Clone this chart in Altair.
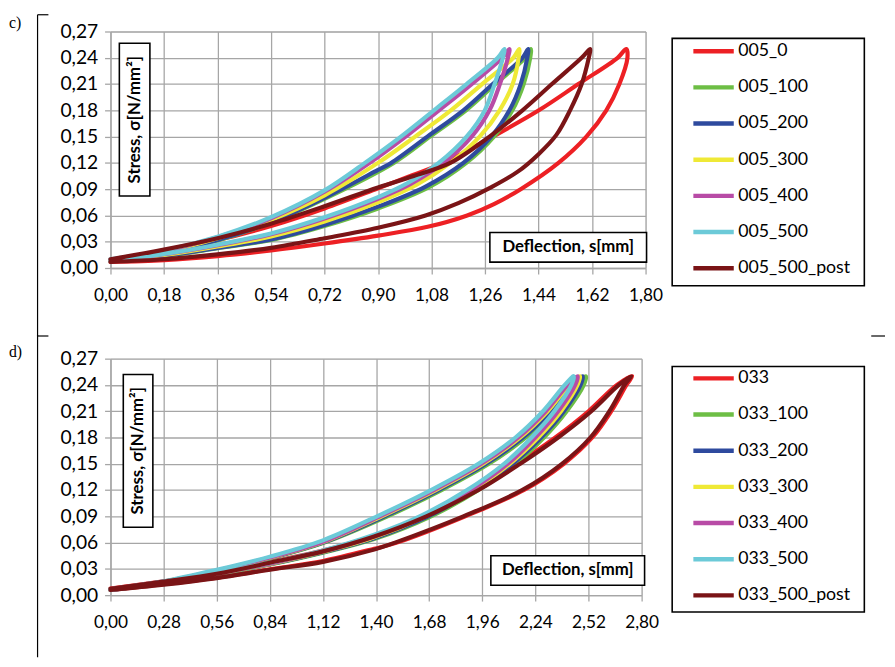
import altair as alt
import pandas as pd

# ---------------- panel c) ----------------
C_SERIES = ["005_0", "005_100", "005_200", "005_300", "005_400", "005_500", "005_500_post"]
C_XTICKS = [0.00, 0.18, 0.36, 0.54, 0.72, 0.90, 1.08, 1.26, 1.44, 1.62, 1.80]

c_005_0_x = [0.00, 0.18, 0.36, 0.54, 0.72, 0.90, 1.067, 1.20, 1.29, 1.38, 1.507, 1.601, 1.668, 1.712, 1.739, 1.735,
             1.706, 1.574, 1.441, 1.286, 1.121, 1.00, 0.90, 0.72, 0.54, 0.36, 0.18, 0.00]
c_005_0_y = [0.007, 0.009, 0.0135, 0.020, 0.028, 0.037, 0.047, 0.060, 0.073, 0.090, 0.12, 0.15, 0.18, 0.21, 0.24, 0.25,
             0.24, 0.21, 0.18, 0.15, 0.12, 0.104, 0.091, 0.068, 0.048, 0.032, 0.020, 0.009]

c_005_100_x = [0.00, 0.18, 0.36, 0.54, 0.72, 0.90, 1.07, 1.197, 1.29, 1.352, 1.39, 1.412, 1.414,
               1.395, 1.295, 1.196, 1.075, 0.953, 0.72, 0.54, 0.36, 0.18, 0.00]
c_005_100_y = [0.008, 0.0135, 0.0225, 0.032, 0.048, 0.068, 0.092, 0.12, 0.15, 0.18, 0.21, 0.24, 0.25,
               0.24, 0.21, 0.18, 0.15, 0.12, 0.079, 0.052, 0.0315, 0.0168, 0.009]

c_005_200_x = [0.00, 0.18, 0.36, 0.54, 0.72, 0.90, 1.06, 1.187, 1.281, 1.342, 1.38, 1.402, 1.405,
               1.386, 1.286, 1.187, 1.066, 0.944, 0.90, 0.72, 0.54, 0.36, 0.18, 0.00]
c_005_200_y = [0.008, 0.0138, 0.023, 0.0325, 0.049, 0.070, 0.093, 0.12, 0.15, 0.18, 0.21, 0.24, 0.25,
               0.24, 0.21, 0.18, 0.15, 0.12, 0.112, 0.080, 0.0524, 0.032, 0.017, 0.009]

c_005_300_x = [0.00, 0.18, 0.36, 0.54, 0.72, 0.90, 1.03, 1.143, 1.242, 1.309, 1.353, 1.373, 1.375,
               1.355, 1.25, 1.145, 1.025, 0.90, 0.72, 0.54, 0.36, 0.18, 0.00]
c_005_300_y = [0.008, 0.0148, 0.0245, 0.036, 0.053, 0.075, 0.095, 0.12, 0.15, 0.18, 0.21, 0.24, 0.25,
               0.24, 0.21, 0.18, 0.15, 0.12, 0.083, 0.055, 0.034, 0.0185, 0.009]

c_005_400_x = [0.00, 0.18, 0.36, 0.54, 0.72, 0.90, 1.01, 1.12, 1.215, 1.275, 1.31, 1.337, 1.342,
               1.318, 1.215, 1.105, 0.993, 0.872, 0.72, 0.54, 0.36, 0.18, 0.00]
c_005_400_y = [0.008, 0.0157, 0.026, 0.0385, 0.0565, 0.079, 0.096, 0.12, 0.15, 0.18, 0.21, 0.24, 0.25,
               0.24, 0.21, 0.18, 0.15, 0.12, 0.087, 0.0568, 0.035, 0.0195, 0.0095]

c_005_500_x = [0.00, 0.18, 0.36, 0.54, 0.72, 0.90, 1.00, 1.104, 1.198, 1.259, 1.292, 1.320, 1.325,
               1.303, 1.198, 1.088, 0.977, 0.856, 0.72, 0.54, 0.36, 0.18, 0.00]
c_005_500_y = [0.008, 0.016, 0.0266, 0.0395, 0.058, 0.081, 0.097, 0.12, 0.15, 0.18, 0.21, 0.24, 0.25,
               0.24, 0.21, 0.18, 0.15, 0.12, 0.0886, 0.058, 0.0358, 0.020, 0.010]

c_005_post_x = [0.00, 0.18, 0.36, 0.54, 0.72, 0.90, 1.06, 1.17, 1.28, 1.37, 1.44, 1.50, 1.546, 1.585, 1.609, 1.614,
                1.585, 1.485, 1.386, 1.275, 1.143, 1.02, 0.90, 0.72, 0.54, 0.36, 0.18, 0.00]
c_005_post_y = [0.007, 0.010, 0.0155, 0.023, 0.034, 0.046, 0.060, 0.074, 0.092, 0.11, 0.13, 0.152, 0.18, 0.21, 0.24, 0.25,
                0.24, 0.21, 0.18, 0.15, 0.12, 0.105, 0.092, 0.0705, 0.0505, 0.034, 0.021, 0.010]

# ---------------- panel d) ----------------
D_SERIES = ["033", "033_100", "033_200", "033_300", "033_400", "033_500", "033_500_post"]
D_XTICKS = [0.00, 0.28, 0.56, 0.84, 1.12, 1.40, 1.68, 1.96, 2.24, 2.52, 2.80]

d_033_x = [0.00, 0.28, 0.56, 0.84, 1.12, 1.39, 1.51, 1.87, 2.18, 2.39, 2.54, 2.64, 2.72, 2.75,
           2.67, 2.52, 2.345, 2.145, 1.925, 1.65, 1.39, 1.12, 0.84, 0.56, 0.28, 0.00]
d_033_y = [0.006, 0.0125, 0.020, 0.0295, 0.039, 0.053, 0.060, 0.09, 0.12, 0.15, 0.18, 0.21, 0.24, 0.25,
           0.24, 0.21, 0.18, 0.15, 0.12, 0.09, 0.068, 0.051, 0.038, 0.025, 0.0158, 0.0075]

d_033_100_x = [0.00, 0.28, 0.56, 0.84, 1.12, 1.39, 1.69, 1.94, 2.135, 2.285, 2.405, 2.495, 2.506,
               2.45, 2.335, 2.19, 1.995, 1.745, 1.46, 1.12, 0.84, 0.56, 0.28, 0.00]
d_033_100_y = [0.006, 0.0138, 0.0237, 0.035, 0.0485, 0.064, 0.09, 0.12, 0.15, 0.18, 0.21, 0.24, 0.25,
               0.24, 0.21, 0.18, 0.15, 0.12, 0.09, 0.0595, 0.042, 0.0275, 0.015, 0.0066]

d_033_200_x = [0.00, 0.28, 0.56, 0.84, 1.12, 1.39, 1.675, 1.925, 2.12, 2.27, 2.39, 2.478, 2.489,
               2.435, 2.32, 2.175, 1.98, 1.73, 1.445, 1.12, 0.84, 0.56, 0.28, 0.00]
d_033_200_y = [0.006, 0.014, 0.024, 0.0353, 0.049, 0.065, 0.09, 0.12, 0.15, 0.18, 0.21, 0.24, 0.25,
               0.24, 0.21, 0.18, 0.15, 0.12, 0.09, 0.060, 0.0423, 0.0277, 0.0152, 0.0066]

d_033_300_x = [0.00, 0.28, 0.56, 0.84, 1.12, 1.39, 1.66, 1.91, 2.105, 2.255, 2.375, 2.462, 2.475,
               2.42, 2.305, 2.16, 1.965, 1.715, 1.43, 1.12, 0.84, 0.56, 0.28, 0.00]
d_033_300_y = [0.006, 0.0142, 0.0243, 0.0357, 0.0495, 0.066, 0.09, 0.12, 0.15, 0.18, 0.21, 0.24, 0.25,
               0.24, 0.21, 0.18, 0.15, 0.12, 0.09, 0.0605, 0.0427, 0.028, 0.0154, 0.0067]

d_033_400_x = [0.00, 0.28, 0.56, 0.84, 1.12, 1.39, 1.65, 1.90, 2.095, 2.24, 2.36, 2.45, 2.463,
               2.41, 2.295, 2.15, 1.955, 1.705, 1.42, 1.12, 0.84, 0.56, 0.28, 0.00]
d_033_400_y = [0.006, 0.0143, 0.0245, 0.036, 0.050, 0.067, 0.09, 0.12, 0.15, 0.18, 0.21, 0.24, 0.25,
               0.24, 0.21, 0.18, 0.15, 0.12, 0.09, 0.061, 0.043, 0.0282, 0.0155, 0.0067]

d_033_500_x = [0.00, 0.28, 0.56, 0.84, 1.12, 1.39, 1.63, 1.88, 2.075, 2.22, 2.34, 2.43, 2.442,
               2.395, 2.28, 2.135, 1.94, 1.69, 1.405, 1.12, 0.84, 0.56, 0.28, 0.00]
d_033_500_y = [0.006, 0.0145, 0.025, 0.037, 0.051, 0.069, 0.09, 0.12, 0.15, 0.18, 0.21, 0.24, 0.25,
               0.24, 0.21, 0.18, 0.15, 0.12, 0.09, 0.0626, 0.044, 0.029, 0.0158, 0.0068]

d_033_post_x = [0.00, 0.28, 0.56, 0.84, 1.12, 1.39, 1.50, 1.86, 2.17, 2.38, 2.53, 2.63, 2.71, 2.745,
                2.68, 2.535, 2.36, 2.16, 1.94, 1.665, 1.39, 1.12, 0.84, 0.56, 0.28, 0.00]
d_033_post_y = [0.006, 0.012, 0.0195, 0.029, 0.038, 0.052, 0.060, 0.09, 0.12, 0.15, 0.18, 0.21, 0.24, 0.25,
                0.24, 0.21, 0.18, 0.15, 0.12, 0.09, 0.067, 0.050, 0.037, 0.0245, 0.0155, 0.0072]

YTICKS = [0.00, 0.03, 0.06, 0.09, 0.12, 0.15, 0.18, 0.21, 0.24, 0.27]
COLORS = ["#ED2024", "#6DBE45", "#2E4A9E", "#EFE936", "#B84BA6", "#6CCAD8", "#7A1416"]

C_XS = [c_005_0_x, c_005_100_x, c_005_200_x, c_005_300_x, c_005_400_x, c_005_500_x, c_005_post_x]
C_YS = [c_005_0_y, c_005_100_y, c_005_200_y, c_005_300_y, c_005_400_y, c_005_500_y, c_005_post_y]
D_XS = [d_033_x, d_033_100_x, d_033_200_x, d_033_300_x, d_033_400_x, d_033_500_x, d_033_post_x]
D_YS = [d_033_y, d_033_100_y, d_033_200_y, d_033_300_y, d_033_400_y, d_033_500_y, d_033_post_y]


def frame(series, xs, ys):
    rows = []
    for name, xl, yl in zip(series, xs, ys):
        for i, (a, b) in enumerate(zip(xl, yl)):
            rows.append({"series": name, "x": a, "y": b, "i": i})
    return pd.DataFrame(rows)


GRID = "#A6A6A6"
LABEL_EXPR = "replace(format(datum.value, '.2f'), '.', ',')"
ONE = pd.DataFrame({"k": [0]})


def rule(x1, x2, y1, y2):
    return alt.Chart(ONE).mark_rule(color="black", strokeWidth=1.2).encode(
        x=alt.value(x1), x2=alt.value(x2), y=alt.value(y1), y2=alt.value(y2))


def box(x1, x2, y1, y2, fill="white"):
    return alt.Chart(ONE).mark_rect(fill=fill, fillOpacity=1 if fill == "white" else 0,
                                    stroke="black", strokeWidth=1.6).encode(
        x=alt.value(x1), x2=alt.value(x2), y=alt.value(y1), y2=alt.value(y2))


def label(text, x, y, angle=0, bold=True, font="Lato", size=17, align="center"):
    return alt.Chart(ONE).mark_text(text=text, font=font, fontSize=size,
                                    fontWeight="bold" if bold else "normal",
                                    angle=angle, align=align, baseline="middle", color="black").encode(
        x=alt.value(x), y=alt.value(y))


def panel(series, xs, ys, xmax, xticks, width, tag, stress_box, defl_box, legend_box, tag_y,
          frame_rules):
    df = frame(series, xs, ys)
    lines = alt.Chart(df).mark_line(strokeWidth=4.2, interpolate="catmull-rom",
                                    strokeCap="round", strokeJoin="round").encode(
        x=alt.X("x:Q", scale=alt.Scale(domain=[0, xmax], nice=False, zero=False),
                axis=alt.Axis(values=xticks, labelExpr=LABEL_EXPR, title=None, grid=True,
                              gridColor=GRID, gridWidth=1.3, domainColor=GRID, domainWidth=1.3,
                              tickColor=GRID, tickWidth=1.3, tickSize=6, labelPadding=13,
                              labelFont="Lato", labelFontSize=17.5, labelColor="black",
                              labelFlush=False, labelOverlap=False, labelBound=False)),
        y=alt.Y("y:Q", scale=alt.Scale(domain=[0, 0.27], nice=False, zero=False),
                axis=alt.Axis(values=YTICKS, labelExpr=LABEL_EXPR, title=None, grid=True,
                              gridColor=GRID, gridWidth=1.3, domainColor=GRID, domainWidth=1.3,
                              tickColor=GRID, tickWidth=1.3, tickSize=6, labelPadding=7,
                              labelFont="Lato", labelFontSize=19.5, labelColor="black",
                              labelFlush=False, labelOverlap=False, labelBound=False)),
        color=alt.Color("series:N", scale=alt.Scale(domain=series, range=COLORS),
                        legend=alt.Legend(title=None, orient="none", legendX=589, legendY=-3,
                                          symbolType="stroke", symbolStrokeWidth=4.5,
                                          symbolSize=1681, labelFont="Lato", labelFontSize=18,
                                          labelColor="black", rowPadding=4.7, labelOffset=2,
                                          padding=0)),
        order=alt.Order("i:Q"),
    )
    sx1, sx2, sy1, sy2 = stress_box
    dx1, dx2, dy1, dy2 = defl_box
    lx1, lx2, ly1, ly2 = legend_box
    layers = [lines,
              box(sx1, sx2, sy1, sy2),
              label("Stress, σ[N/mm²]", (sx1 + sx2) / 2, (sy1 + sy2) / 2, angle=270),
              box(dx1, dx2, dy1, dy2),
              label("Deflection, s[mm]", (dx1 + dx2) / 2, (dy1 + dy2) / 2),
              box(lx1, lx2, ly1, ly2, fill="none"),
              label(tag, -103, tag_y, bold=False, font="Liberation Serif", size=16, align="left")]
    layers += [rule(*r) for r in frame_rules]
    return alt.layer(*layers).properties(width=width, height=240)


chart_c = panel(C_SERIES, C_XS, C_YS, 1.80, C_XTICKS, 543, "c)",
                (9, 40, 12, 167), (385, 544, 204, 234), (570, 765, 7, 258), -9,
                [(-74, -74, -17, 309), (-74, -63, -17, -17), (-74, -63, 309, 309), (772, 786, 309, 309)])
chart_d = panel(D_SERIES, D_XS, D_YS, 2.80, D_XTICKS, 539, "d)",
                (13, 43, 16, 171), (386, 542, 200, 230), (570, 765, 8, 257), -7,
                [(-74, -74, -24, 303)])

chart = alt.vconcat(chart_c, chart_d, spacing=92, bounds="flush", padding=0).resolve_scale(
    x="independent", y="independent", color="independent"
).resolve_legend(color="independent").configure_view(
    strokeWidth=0
).configure(background="white")

chart.save("out.html", embed_options={"renderer": "svg", "actions": False})
